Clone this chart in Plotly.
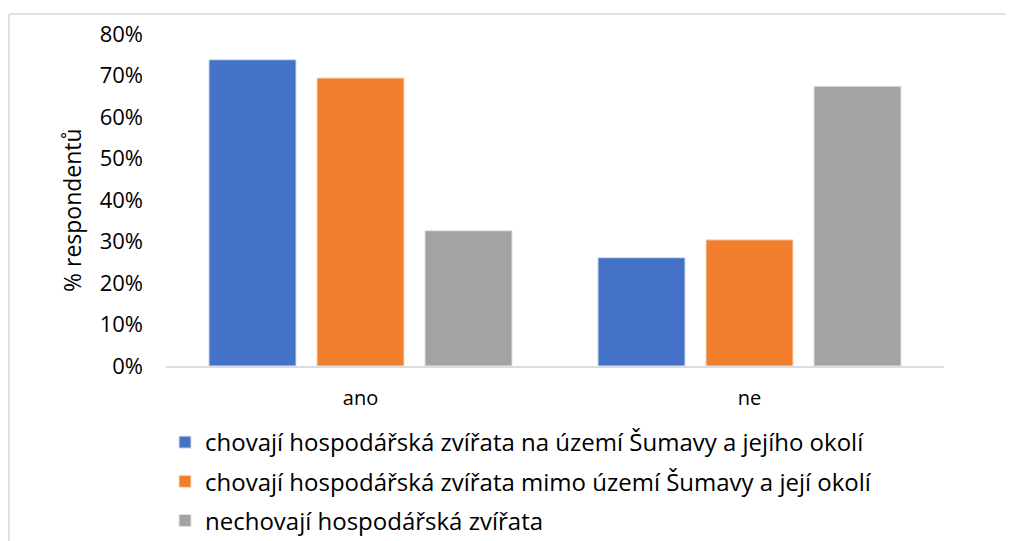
import plotly.graph_objects as go

categories = ["ano", "ne"]
series_names = [
    "chovají hospodářská zvířata na území Šumavy a jejího okolí",
    "chovají hospodářská zvířata mimo území Šumavy a její okolí",
    "nechovají hospodářská zvířata",
]
values_blue = [0.738, 0.261]
values_orange = [0.694, 0.304]
values_gray = [0.326, 0.674]
colors = ["#4372C6", "#F07E2C", "#A3A3A3"]
edge_colors = ["#D6E0F5", "#FADCC8", "#E3E3E3"]
y_title = "% respondentů"

FONT = "'Open Sans', sans-serif"

fig = go.Figure()
for name, vals, c, e in zip(series_names, [values_blue, values_orange, values_gray], colors, edge_colors):
    fig.add_trace(go.Bar(
        x=categories, y=vals, name=name,
        marker=dict(color=c, line=dict(color=e, width=1)),
        legendgroup=name,
    ))

# page body has an 8px margin: figure coordinates = window coordinates - 8
W, H = 1006, 533
L, R, T, B = 158, 70, 26, 175
pw, ph = W - L - R, H - T - B

def px_x(px):
    return (px - L) / pw

def px_y(py):
    return (H - B - py) / ph

fig.update_layout(
    width=W, height=H,
    margin=dict(l=L, r=R, t=T, b=B, pad=0, autoexpand=False),
    paper_bgcolor="white", plot_bgcolor="white",
    font=dict(family=FONT, color="#000000", size=20),
    barmode="group", bargap=0.167, bargroupgap=0.194,
    showlegend=True,
    legend=dict(
        x=px_x(157), y=px_y(412), xanchor="left", yanchor="top",
        orientation="v", traceorder="grouped", tracegroupgap=5,
        font=dict(size=24, family=FONT), itemwidth=30,
        bgcolor="rgba(0,0,0,0)",
    ),
    xaxis=dict(
        showline=True, linecolor="#D9DDE6", linewidth=2,
        ticks="", showgrid=False, tickfont=dict(size=20),
        ticklabelstandoff=13,
    ),
    yaxis=dict(
        range=[0, 0.8], dtick=0.1, tickformat=".0%",
        showgrid=False, showline=False, zeroline=False, ticks="",
        tickfont=dict(size=22), ticklabelstandoff=22,
    ),
    annotations=[
        dict(text=y_title, xref="paper", yref="paper",
             x=px_x(64), y=px_y(202), xanchor="center", yanchor="middle",
             textangle=-90, showarrow=False, font=dict(size=23, family=FONT)),
    ],
    shapes=[
        dict(type="line", xref="paper", yref="paper",
             x0=px_x(1), x1=px_x(W), y0=px_y(6), y1=px_y(6),
             line=dict(color="#DDE1E8", width=2)),
        dict(type="line", xref="paper", yref="paper",
             x0=px_x(1), x1=px_x(1), y0=px_y(6), y1=px_y(H),
             line=dict(color="#DDE1E8", width=2)),
    ],
)

fig.write_html("out.html")
